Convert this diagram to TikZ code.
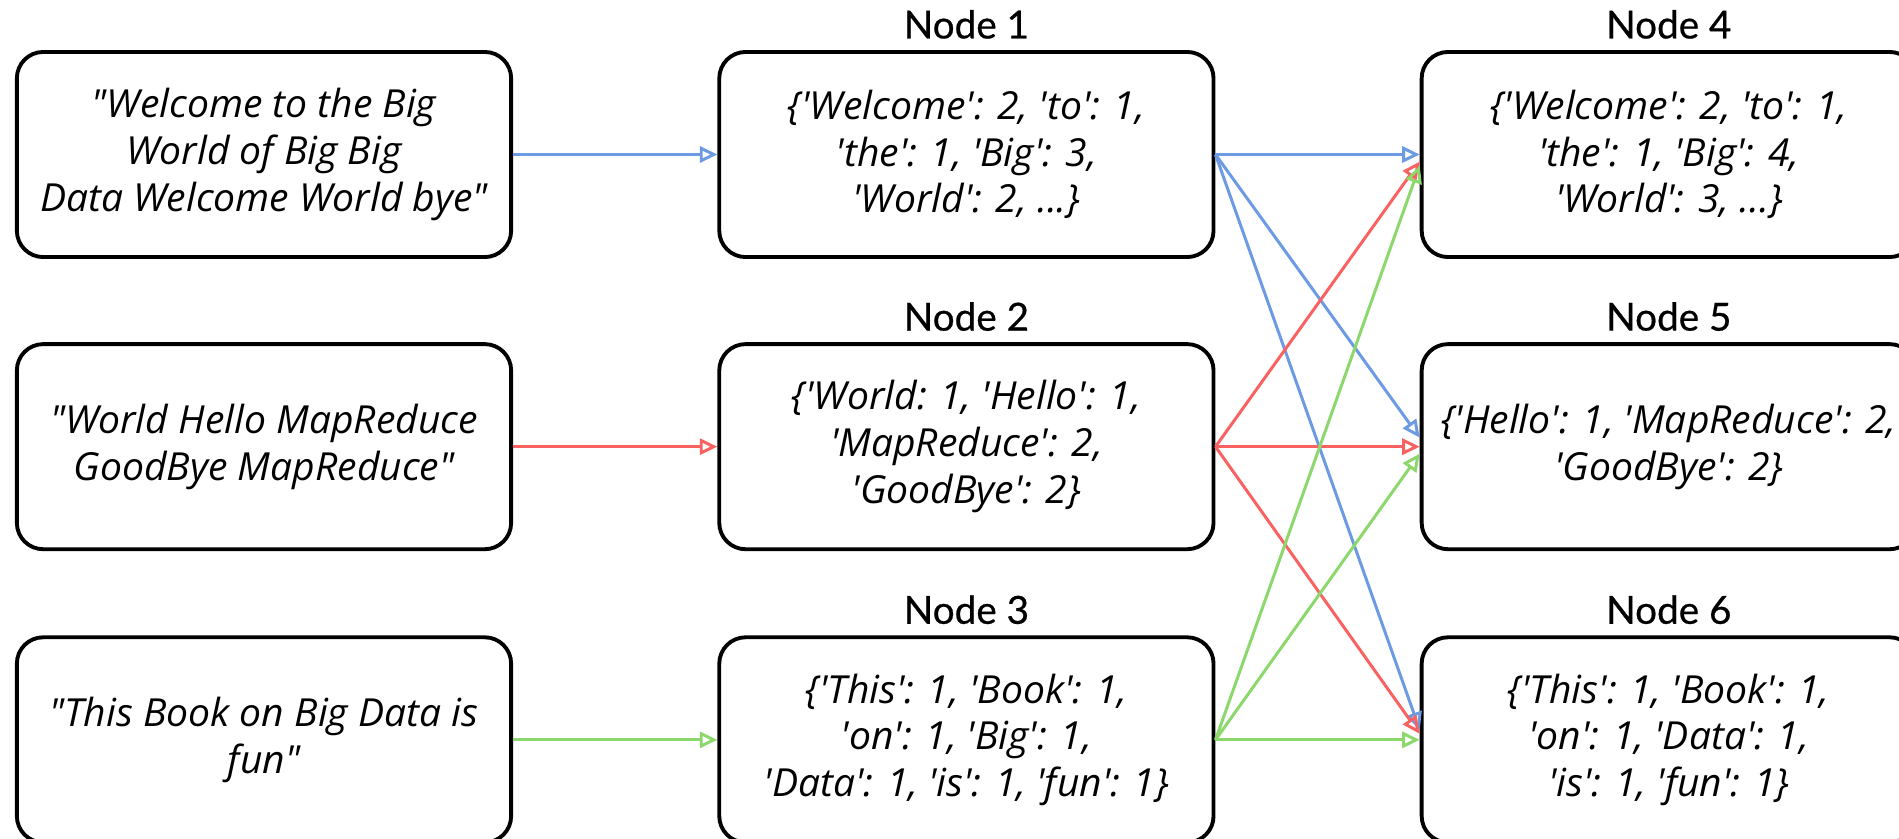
\documentclass[tikz,border=0pt]{standalone}
\usepackage{fontspec}
\setmainfont{Lato}
\newfontfamily\hand{Open Sans}[Ligatures=TeXOff,FakeStretch=1.01]
\newfontfamily\headfont{Lato}[FakeBold=0.6]
\usetikzlibrary{positioning,arrows.meta}
\definecolor{mblue}{RGB}{108,155,228}
\definecolor{mred}{RGB}{250,98,98}
\definecolor{mgreen}{RGB}{140,216,108}
\begin{document}
\begin{tikzpicture}[x=0.01cm,y=-0.01cm,node distance=7.02cm,every node/.style={inner sep=1pt}]
\tikzstyle{box}=[draw,line width=1.1pt,rounded corners=7.5pt,minimum width=4.94cm,minimum height=2.05cm,align=center,font=\hand\itshape\fontsize{11}{13.3}\selectfont]
\tikzstyle{head}=[font=\headfont\fontsize{11}{13}\selectfont]
\tikzstyle{arrow}=[draw,line width=0.85pt,-{Triangle[open,length=5pt,width=4.6pt]}]
\useasboundingbox (0,0) rectangle (1899,839);

% input
\node[box](n00) at (264,154.5){"Welcome to the Big\\World of Big Big\\Data Welcome World bye"};
\node[box,below of=n00,node distance=2.92cm](n10){"World Hello MapReduce\\GoodBye MapReduce"};
\node[box,below of=n10,node distance=2.93cm](n20){"This Book on Big Data is\\fun"};

% map
\node[box,right of=n00](n01){\{'Welcome': 2, 'to': 1,\\'the': 1, 'Big': 3,\\'World': 2, ...\}};
\node[box,right of=n10](n11){\{'World: 1, 'Hello': 1,\\'MapReduce': 2,\\'GoodBye': 2\}};
\node[box,right of=n20](n21){\{'This': 1, 'Book': 1,\\'on': 1, 'Big': 1,\\'Data': 1, 'is': 1, 'fun': 1\}};

% reduce
\node[box,right of=n01](n02){\{'Welcome': 2, 'to': 1,\\'the': 1, 'Big': 4,\\'World': 3, ...\}};
\node[box,right of=n11](n12){\{'Hello': 1, 'MapReduce': 2,\\'GoodBye': 2\}};
\node[box,right of=n21](n22){\{'This': 1, 'Book': 1,\\'on': 1, 'Data': 1,\\'is': 1, 'fun': 1\}};

\node[head,above=2pt of n01](h01){Node 1};
\node[head,above=2pt of n11](h11){Node 2};
\node[head,above=2pt of n21](h21){Node 3};
\node[head,above=2pt of n02](h02){Node 4};
\node[head,above=2pt of n12](h12){Node 5};
\node[head,above=2pt of n22](h22){Node 6};

\draw[arrow,mblue](n00.east)--(n01.west);
\draw[arrow,mred](n10.east)--(n11.west);
\draw[arrow,mgreen](n20.east)--(n21.west);

% shuffle
\draw[arrow,mblue](n01.east)--(n02.west);
\draw[arrow,mblue](n01.east)--([yshift=0.09cm]n12.west);
\draw[arrow,mblue](n01.east)--([yshift=0.1cm]n22.west);
\draw[arrow,mred](n11.east)--([yshift=-0.07cm]n02.west);
\draw[arrow,mred](n11.east)--(n12.west);
\draw[arrow,mred](n11.east)--([yshift=0.06cm]n22.west);
\draw[arrow,mgreen](n21.east)--([yshift=-0.11cm]n02.west);
\draw[arrow,mgreen](n21.east)--([yshift=-0.07cm]n12.west);
\draw[arrow,mgreen](n21.east)--(n22.west);
\end{tikzpicture}
\end{document}
